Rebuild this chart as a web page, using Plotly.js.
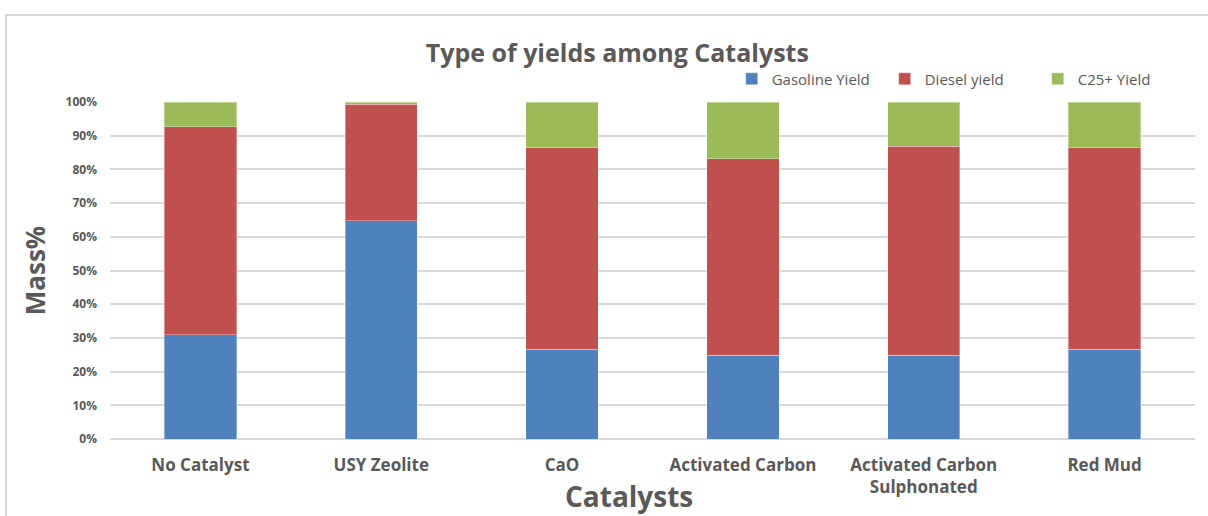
<!DOCTYPE html>
<html><head><meta charset="utf-8">
<script src="https://cdn.plot.ly/plotly-3.0.1.min.js"></script>
<style>
body{margin:0;background:#fff;}
#wrap{position:relative;width:1208px;height:516px;overflow:hidden;}
#frame{position:absolute;left:5px;top:14px;width:1300px;height:600px;border:2px solid #d9d9d9;box-sizing:border-box;pointer-events:none;}
#chart{position:absolute;left:0;top:0;width:1208px;height:516px;}
</style></head>
<body><div id="wrap"><div id="chart"></div><div id="frame"></div></div>
<script>
const categories = ["No Catalyst","USY Zeolite","CaO","Activated Carbon","Activated Carbon<br>Sulphonated","Red Mud"];
const gasoline = [30.9, 64.7, 26.7, 24.9, 24.8, 26.6];
const diesel = [61.8, 34.6, 59.7, 58.2, 62.1, 59.8];
const c25 = [7.3, 0.7, 13.6, 16.9, 13.1, 13.6];
const seriesNames = ["Gasoline Yield","Diesel yield","C25+ Yield"];
const colors = ["#4f81bd","#c0504d","#9bbb59"];
const font = "'Open Sans', Lato, sans-serif";
const txt = "#595959";

const traces = [gasoline, diesel, c25].map((v,i)=>({
  type:"bar", x:categories, y:v.map(d=>d/100), name:seriesNames[i],
  marker:{color:colors[i], line:{color:"rgba(255,255,255,0.35)",width:1}},
  width:0.4, hoverinfo:"y+name"
}));

const layout = {
  width:1208, height:516, barmode:"stack",
  margin:{l:110,r:13,t:102,b:77,autoexpand:false},
  paper_bgcolor:"#fff", plot_bgcolor:"#fff",
  font:{family:font,color:txt},
  title:{text:"<b>Type of yields among Catalysts</b>", x:0.511, xanchor:"center", y:0.897, yanchor:"middle", font:{size:25,color:txt,family:font}},
  showlegend:true,
  legend:{orientation:"h", x:0.573, xanchor:"left", y:1.068, yanchor:"middle", font:{size:15,color:txt,family:font}, itemwidth:30, entrywidth:108, traceorder:"normal", bgcolor:"rgba(0,0,0,0)"},
  xaxis:{tickfont:{size:17,color:txt,family:font}, ticklabelstandoff:14, showgrid:false, showline:false},
  yaxis:{range:[0,1], tickformat:".0%", dtick:0.1, tickfont:{size:12,color:txt,family:font}, ticklabelstandoff:12,
    gridcolor:"#d9d9d9", gridwidth:2, zeroline:true, zerolinecolor:"#d9d9d9", zerolinewidth:2,
    title:{text:"<b>Mass%</b>", font:{size:26,color:txt,family:font}, standoff:13}},
  annotations:[{text:"<b>Catalysts</b>", xref:"paper", yref:"paper", x:0.478, y:-0.17, xanchor:"center", yanchor:"middle", showarrow:false, font:{size:28,color:txt,family:font}}]
};
Plotly.newPlot("chart", traces, layout, {displayModeBar:false, staticPlot:true}).then(()=>{
  document.querySelectorAll('.xtick text').forEach(t=>t.style.fontWeight='bold');
  document.querySelectorAll('.ytick text').forEach(t=>t.style.fontWeight='bold');
});
</script></body></html>
